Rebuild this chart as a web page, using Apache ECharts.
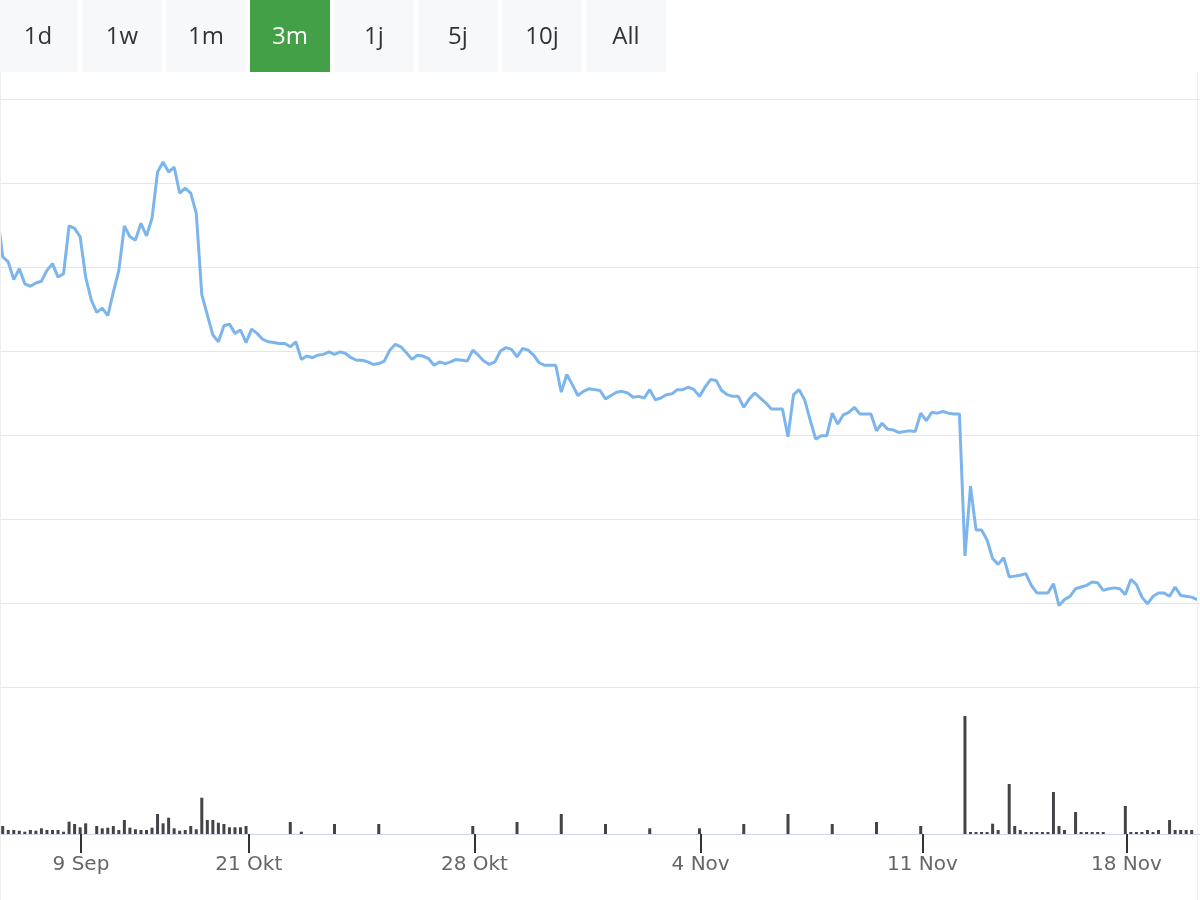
<!DOCTYPE html>
<html><head><meta charset="utf-8">
<script src="https://cdn.jsdelivr.net/npm/echarts@6/dist/echarts.min.js"></script>
<style>html,body{margin:0;padding:0;background:#fff}#c{width:1200px;height:900px}</style>
</head><body><div id="c"></div>
<script>
// Range selector buttons
const rangeButtons = ['1d', '1w', '1m', '3m', '1j', '5j', '10j', 'All'];
const activeButton = '3m';

// X-axis tick labels and their (ordinal) positions in point-index units
const tickLabels = ['9 Sep', '21 Okt', '28 Okt', '4 Nov', '11 Nov', '18 Nov'];
const tickIndex = [14.15, 44.5, 85.3, 126.2, 166.3, 203.2];

// Price series (first value is the point just left of the visible window)
const prices = [15.65,
15.12,15.06,14.85,14.98,14.80,14.77,14.81,14.83,14.96,15.04,
14.88,14.92,15.49,15.46,15.36,14.88,14.61,14.46,14.51,14.42,
14.70,14.96,15.49,15.36,15.32,15.52,15.37,15.58,16.13,16.25,
16.13,16.19,15.88,15.94,15.88,15.64,14.67,14.43,14.19,14.11,
14.30,14.32,14.21,14.25,14.10,14.26,14.21,14.14,14.11,14.10,
14.09,14.09,14.05,14.11,13.90,13.94,13.92,13.95,13.96,13.99,
13.96,13.99,13.97,13.92,13.89,13.89,13.87,13.84,13.85,13.88,
14.01,14.08,14.05,13.98,13.90,13.95,13.94,13.91,13.83,13.87,
13.85,13.87,13.90,13.89,13.88,14.01,13.95,13.88,13.84,13.87,
14.00,14.04,14.02,13.93,14.03,14.01,13.95,13.86,13.83,13.83,
13.83,13.51,13.72,13.60,13.47,13.52,13.55,13.54,13.53,13.43,
13.47,13.51,13.52,13.50,13.45,13.46,13.44,13.54,13.42,13.44,
13.48,13.49,13.54,13.54,13.57,13.54,13.46,13.57,13.66,13.65,
13.53,13.48,13.46,13.46,13.33,13.43,13.50,13.44,13.38,13.31,
13.31,13.31,12.98,13.48,13.54,13.42,13.18,12.95,12.99,12.99,
13.26,13.13,13.24,13.27,13.33,13.25,13.25,13.25,13.05,13.14,
13.07,13.06,13.03,13.04,13.05,13.04,13.26,13.17,13.27,13.26,
13.28,13.26,13.25,13.25,11.56,12.39,11.87,11.87,11.75,11.53,
11.46,11.54,11.31,11.32,11.33,11.35,11.21,11.12,11.12,11.12,
11.23,10.97,11.04,11.08,11.17,11.19,11.21,11.25,11.24,11.15,
11.17,11.18,11.17,11.10,11.28,11.22,11.07,10.99,11.08,11.12,
11.12,11.08,11.19,11.09,11.08,11.07,11.04];

// Volume series (one per visible point, 0 = no volume)
const volumes = [
8000,4000,4000,3300,2300,4000,3300,5700,4000,4000,
4000,2300,12300,10000,6700,10700,0,8000,5700,6300,
8000,4000,14000,6300,4700,4000,4000,6300,20000,10700,
16300,5700,3300,4000,8000,4700,36300,14000,14000,11300,
10000,6700,6700,6700,8000,
0,0,0,0,0,0,0,12000,0,2300,
0,0,0,0,0,10000,0,0,0,0,
0,0,0,10000,0,0,0,0,0,0,
0,0,0,0,0,0,0,0,0,0,
8000,0,0,0,0,0,0,0,12000,0,
0,0,0,0,0,0,20000,0,0,0,
0,0,0,0,10000,0,0,0,0,0,
0,0,5700,0,0,0,0,0,0,0,
0,5700,0,0,0,0,0,0,0,10000,
0,0,0,0,0,0,0,20000,0,0,
0,0,0,0,0,10000,0,0,0,0,
0,0,0,12000,0,0,0,0,0,0,
0,8000,0,0,0,0,0,0,0,118000,
2000,2000,2000,2000,10300,4000,0,50000,8000,4000,
2000,2000,2000,2000,2000,42000,8000,4000,0,22000,
2000,2000,2000,2000,2000,0,0,0,28000,2000,
2000,2000,4000,2000,4000,0,14000,4000,4000,4000,
4000,0];

const chart = echarts.init(document.getElementById('c'), null, { renderer: 'canvas' });
const xMin = -0.49, xMax = 216.5;
const priceData = prices.map((v, i) => [i - 1, v]);
const volumeData = volumes.map((v, i) => [i, v]).filter(d => d[1] > 0);

const graphics = [];
rangeButtons.forEach((b, i) => {
  const active = b === activeButton;
  graphics.push({ type: 'rect', z: 10, shape: { x: -2 + 84 * i, y: 0, width: 80, height: 72 },
    style: { fill: active ? '#43a047' : '#f7f8fa' } });
  graphics.push({ type: 'text', z: 11, x: 38 + 84 * i, y: 37,
    style: { text: b, fill: active ? '#ffffff' : '#333333', font: '24px "Open Sans", sans-serif',
      textAlign: 'center', textVerticalAlign: 'middle' } });
});
// faint frame edges of the chart panel
graphics.push({ type: 'line', z: 5, shape: { x1: 0.5, y1: 72, x2: 0.5, y2: 900 },
  style: { stroke: '#eeeeee', lineWidth: 1 } });
graphics.push({ type: 'line', z: 5, shape: { x1: 1197.5, y1: 72, x2: 1197.5, y2: 900 },
  style: { stroke: '#eeeeee', lineWidth: 1 } });

const labelFor = v => {
  const i = tickIndex.findIndex(t => Math.abs(t - v) < 1e-6);
  return i >= 0 ? tickLabels[i] : '';
};

chart.setOption({
  animation: false,
  backgroundColor: '#ffffff',
  graphic: graphics,
  grid: [
    { left: 0, right: 0, top: 99, bottom: 213 },
    { left: 0, right: 0, top: 700, bottom: 66 }
  ],
  xAxis: [
    { type: 'value', gridIndex: 0, min: xMin, max: xMax, show: false },
    { type: 'value', gridIndex: 1, min: xMin, max: xMax,
      axisLine: { show: true, lineStyle: { color: '#ccd6eb', width: 1 } },
      axisTick: { show: true, customValues: tickIndex, length: 19, lineStyle: { color: '#333333', width: 2 } },
      axisLabel: { show: true, customValues: tickIndex, formatter: labelFor, color: '#666666',
        fontSize: 20, fontFamily: 'DejaVu Sans', margin: 21 },
      splitLine: { show: false } }
  ],
  yAxis: [
    { type: 'value', gridIndex: 0, min: 10, max: 17, interval: 1,
      axisLabel: { show: false }, axisLine: { show: false }, axisTick: { show: false },
      splitLine: { show: true, lineStyle: { color: '#e6e6e6', width: 1 } } },
    { type: 'value', gridIndex: 1, min: 0, max: 134000, show: false, splitLine: { show: false } }
  ],
  series: [
    { type: 'line', xAxisIndex: 0, yAxisIndex: 0, data: priceData, showSymbol: false,
      lineStyle: { color: '#7cb5ec', width: 3 }, clip: true },
    { type: 'bar', xAxisIndex: 1, yAxisIndex: 1, data: volumeData, barWidth: 3,
      itemStyle: { color: '#434348' } }
  ]
});
</script>
</body></html>
